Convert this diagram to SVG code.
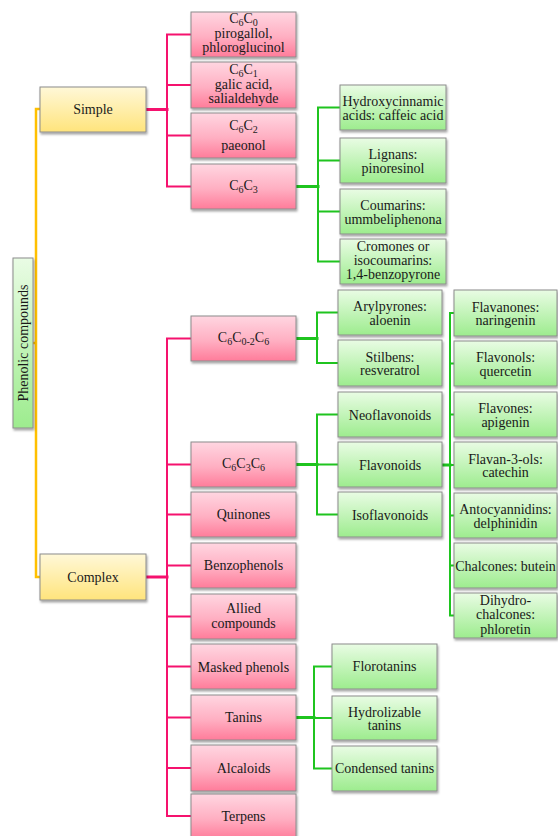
<svg xmlns="http://www.w3.org/2000/svg" width="558" height="836" viewBox="0 0 558 836">
<defs>
<linearGradient id="gp" x1="0" y1="0" x2="0" y2="1"><stop offset="0" stop-color="#FFD6E1"/><stop offset="0.55" stop-color="#FFAFC2"/><stop offset="1" stop-color="#FF7C9A"/></linearGradient>
<linearGradient id="gy" x1="0" y1="0" x2="0" y2="1"><stop offset="0" stop-color="#FFF8D8"/><stop offset="1" stop-color="#FFE47C"/></linearGradient>
<linearGradient id="gg" x1="0" y1="0" x2="0" y2="1"><stop offset="0" stop-color="#E9FCE4"/><stop offset="1" stop-color="#9DEC8E"/></linearGradient>
<filter id="sh" x="-10%" y="-10%" width="130%" height="140%"><feDropShadow dx="1" dy="2" stdDeviation="1" flood-color="#000" flood-opacity="0.35"/></filter>
</defs>
<style>
.b rect{stroke:#8C8C8C;stroke-width:1;filter:url(#sh)}
.p rect{fill:url(#gp)}
.y rect{fill:url(#gy)}
.g rect{fill:url(#gg)}
text{font-family:'Liberation Serif','Times New Roman',serif;font-size:14px;fill:#1a1a1a;text-anchor:middle}
.s{font-size:10px}
.c{fill:none;stroke-linecap:square}
.o{stroke:#FFC000;stroke-width:2.5}
.r{stroke:#F5126E;stroke-width:2}
.rt{stroke:#F5126E;stroke-width:3}
.n{stroke:#1FC41F;stroke-width:2}
.nt{stroke:#1FC41F;stroke-width:3}
</style>
<g id="connectors" class="c">
<path class="o" d="M40,109 H36 V577 H40 M33,343 H36"/>
<path class="rt" d="M146,109.5 H167"/>
<path class="r" d="M191,34.5 H167 V186.5 H191 M167,85 H191 M167,135.5 H191"/>
<path class="rt" d="M146,577 H167"/>
<path class="r" d="M191,338.5 H167 V816 H191 M167,464.5 H191 M167,514.5 H191 M167,565.5 H191 M167,616.5 H191 M167,666.5 H191 M167,717.5 H191 M167,768 H191"/>
<path class="nt" d="M296,186.5 H318"/>
<path class="n" d="M340,107.5 H318 V261.5 H340 M318,160.5 H340 M318,211.5 H340"/>
<path class="nt" d="M297,338.5 H317"/>
<path class="n" d="M338,312.5 H317 V363 H338"/>
<path class="nt" d="M297,464.5 H317"/>
<path class="n" d="M338,414.5 H317 V514.5 H338 M317,464.5 H338"/>
<path class="nt" d="M442,465 H450"/>
<path class="n" d="M454,313 H450 V615.5 H454 M450,363.5 H454 M450,414.5 H454 M450,515.5 H454 M450,565.5 H454 M450,465 H454"/>
<path class="nt" d="M297,717.5 H314"/>
<path class="n" d="M332,666.5 H314 V768.5 H332 M314,718 H332"/>
</g>
<g id="phenolic" class="b g"><rect x="13" y="258" width="20" height="170"/><text transform="translate(27.5,343) rotate(-90)">Phenolic compounds</text></g>
<g id="simple" class="b y"><rect x="40" y="87" width="106" height="45"/><text x="93" y="114">Simple</text></g>
<g id="complex" class="b y"><rect x="40" y="554" width="106" height="46"/><text x="93" y="582">Complex</text></g>
<g id="c6c0" class="b p"><rect x="191" y="12" width="105" height="45"/><text x="243.5" y="23">C<tspan class="s" dy="2.5">6</tspan><tspan dy="-2.5">C</tspan><tspan class="s" dy="2.5">0</tspan></text><text x="243.5" y="38">pirogallol,</text><text x="243.5" y="52">phloroglucinol</text></g>
<g id="c6c1" class="b p"><rect x="191" y="62" width="105" height="46"/><text x="243.5" y="74">C<tspan class="s" dy="2.5">6</tspan><tspan dy="-2.5">C</tspan><tspan class="s" dy="2.5">1</tspan></text><text x="243.5" y="89">galic acid,</text><text x="243.5" y="103">salialdehyde</text></g>
<g id="c6c2" class="b p"><rect x="191" y="113" width="105" height="45"/><text x="243.5" y="130">C<tspan class="s" dy="2.5">6</tspan><tspan dy="-2.5">C</tspan><tspan class="s" dy="2.5">2</tspan></text><text x="243.5" y="150">paeonol</text></g>
<g id="c6c3" class="b p"><rect x="191" y="164" width="105" height="45"/><text x="243.5" y="190">C<tspan class="s" dy="2.5">6</tspan><tspan dy="-2.5">C</tspan><tspan class="s" dy="2.5">3</tspan></text></g>
<g id="c6c02c6" class="b p"><rect x="191" y="316" width="105" height="45"/><text x="243.5" y="342">C<tspan class="s" dy="2.5">6</tspan><tspan dy="-2.5">C</tspan><tspan class="s" dy="2.5">0-2</tspan><tspan dy="-2.5">C</tspan><tspan class="s" dy="2.5">6</tspan></text></g>
<g id="c6c3c6" class="b p"><rect x="191" y="442" width="105" height="45"/><text x="243.5" y="468">C<tspan class="s" dy="2.5">6</tspan><tspan dy="-2.5">C</tspan><tspan class="s" dy="2.5">3</tspan><tspan dy="-2.5">C</tspan><tspan class="s" dy="2.5">6</tspan></text></g>
<g id="quinones" class="b p"><rect x="191" y="492" width="105" height="45"/><text x="243.5" y="519">Quinones</text></g>
<g id="benzophenols" class="b p"><rect x="191" y="543" width="105" height="45"/><text x="243.5" y="570">Benzophenols</text></g>
<g id="allied" class="b p"><rect x="191" y="594" width="105" height="45"/><text x="243.5" y="613">Allied</text><text x="243.5" y="628">compounds</text></g>
<g id="masked" class="b p"><rect x="191" y="644" width="105" height="45"/><text x="243.5" y="672">Masked phenols</text></g>
<g id="tanins" class="b p"><rect x="191" y="695" width="105" height="45"/><text x="243.5" y="722">Tanins</text></g>
<g id="alcaloids" class="b p"><rect x="191" y="745" width="105" height="46"/><text x="243.5" y="773">Alcaloids</text></g>
<g id="terpens" class="b p"><rect x="191" y="794" width="105" height="45"/><text x="243.5" y="821">Terpens</text></g>
<g id="hydroxy" class="b g"><rect x="340" y="85" width="106" height="45"/><text x="393" y="106">Hydroxycinnamic</text><text x="393" y="119.5">acids: caffeic acid</text></g>
<g id="lignans" class="b g"><rect x="340" y="138" width="106" height="45"/><text x="393" y="159">Lignans:</text><text x="393" y="172.5">pinoresinol</text></g>
<g id="coumarins" class="b g"><rect x="340" y="189" width="106" height="45"/><text x="393" y="210">Coumarins:</text><text x="393" y="223.5">ummbeliphenona</text></g>
<g id="cromones" class="b g"><rect x="340" y="239" width="106" height="45"/><text x="393" y="251">Cromones or</text><text x="393" y="265">isocoumarins:</text><text x="393" y="279">1,4-benzopyrone</text></g>
<g id="arylpyrones" class="b g"><rect x="338" y="290" width="104" height="45"/><text x="390" y="311">Arylpyrones:</text><text x="390" y="324.5">aloenin</text></g>
<g id="stilbens" class="b g"><rect x="338" y="340" width="104" height="46"/><text x="390" y="361.5">Stilbens:</text><text x="390" y="375">resveratrol</text></g>
<g id="neoflavonoids" class="b g"><rect x="338" y="392" width="104" height="45"/><text x="390" y="419.5">Neoflavonoids</text></g>
<g id="flavonoids" class="b g"><rect x="338" y="442" width="104" height="45"/><text x="390" y="469.5">Flavonoids</text></g>
<g id="isoflavonoids" class="b g"><rect x="338" y="492" width="104" height="45"/><text x="390" y="519.5">Isoflavonoids</text></g>
<g id="flavanones" class="b g"><rect x="454" y="290" width="103" height="46"/><text x="505.5" y="311.5">Flavanones:</text><text x="505.5" y="325">naringenin</text></g>
<g id="flavonols" class="b g"><rect x="454" y="341" width="103" height="45"/><text x="505.5" y="362">Flavonols:</text><text x="505.5" y="375.5">quercetin</text></g>
<g id="flavones" class="b g"><rect x="454" y="392" width="103" height="45"/><text x="505.5" y="413">Flavones:</text><text x="505.5" y="426.5">apigenin</text></g>
<g id="flavanols" class="b g"><rect x="454" y="442" width="103" height="46"/><text x="505.5" y="463.5">Flavan-3-ols:</text><text x="505.5" y="477">catechin</text></g>
<g id="antocyannidins" class="b g"><rect x="454" y="493" width="103" height="45"/><text x="505.5" y="514">Antocyannidins:</text><text x="505.5" y="527.5">delphinidin</text></g>
<g id="chalcones" class="b g"><rect x="454" y="543" width="103" height="45"/><text x="505.5" y="570.5">Chalcones: butein</text></g>
<g id="dihydrochalcones" class="b g"><rect x="454" y="593" width="103" height="45"/><text x="505.5" y="604.5">Dihydro-</text><text x="505.5" y="619">chalcones:</text><text x="505.5" y="633.5">phloretin</text></g>
<g id="florotanins" class="b g"><rect x="332" y="644" width="105" height="45"/><text x="384.5" y="671">Florotanins</text></g>
<g id="hydrolizable" class="b g"><rect x="332" y="696" width="105" height="44"/><text x="384.5" y="716.5">Hydrolizable</text><text x="384.5" y="730">tanins</text></g>
<g id="condensed" class="b g"><rect x="332" y="746" width="105" height="45"/><text x="384.5" y="773">Condensed tanins</text></g>
</svg>
